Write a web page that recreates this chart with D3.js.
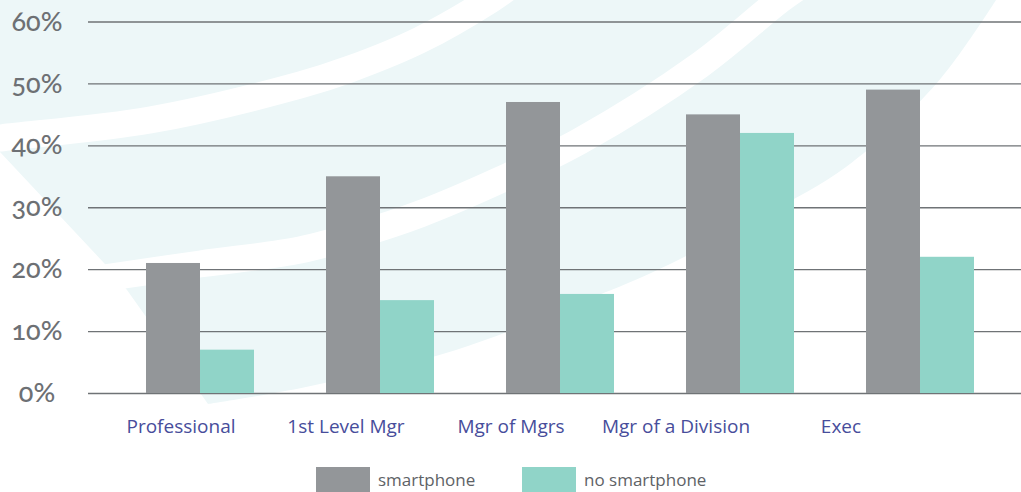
<!DOCTYPE html>
<html>
<head>
<meta charset="utf-8">
<script src="https://cdn.jsdelivr.net/npm/d3@7"></script>
<style>
  html, body { margin: 0; padding: 0; background: #fff; }
  svg { display: block; }
  .grid .domain { display: none; }
  .grid line { stroke: #6f7376; stroke-width: 1.3; }
  .grid text { font-family: Lato, "Open Sans", sans-serif; font-variant-numeric: oldstyle-nums; font-size: 27px; font-weight: 500; fill: #6d7074; }
  .cat { font-family: "Open Sans", sans-serif; font-size: 19px; fill: #474d9b; }
  .leg { font-family: "Open Sans", sans-serif; font-size: 17px; fill: #5e6266; }
</style>
</head>
<body>
<svg id="chart" width="1021" height="492"></svg>
<script>
// values
const categories = ["Professional", "1st Level Mgr", "Mgr of Mgrs", "Mgr of a Division", "Exec"];
const seriesNames = ["smartphone", "no smartphone"];
const smartphone = [21, 35, 47, 45, 49];
const noSmartphone = [7, 15, 16, 42, 22];
const yTicks = [0, 10, 20, 30, 40, 50, 60];
const colors = ["#939699", "#90d4c8"];

const svg = d3.select("#chart");
const W = 1021, H = 492;

// background swoosh (decoration only)
const bg = svg.append("g");
const line = d3.line().curve(d3.curveCatmullRom);
const edge = [[996,0],[937,83],[846,167],[768,213],[651,273],[586,300],[456,350],[306,387],[208,404]];
bg.append("path")
  .attr("d", line(edge) + "L127,290L104,263L0,152L-5,150L-5,-5L996,-5Z")
  .attr("fill", "#edf7f8");
const stripes = [
  [[-20,141],[0,138],[150,120],[300,85],[350,69],[420,40],[490,0],[510,-14]],
  [[90,280],[200,264],[300,250],[360,234],[420,214],[500,180],[580,141],[700,65],[780,0],[800,-14]]
];
bg.selectAll("path.stripe").data(stripes).join("path")
  .attr("class", "stripe")
  .attr("d", d => line(d))
  .attr("fill", "none")
  .attr("stroke", "#fff")
  .attr("stroke-width", 27);

// scales
const y = d3.scaleLinear().domain([0, 60]).range([393, 21.5]);
const x = d3.scaleBand().domain(categories).range([110, 1010]).paddingInner(0.4).paddingOuter(0.2);
const xs = d3.scaleBand().domain(seriesNames).range([0, x.bandwidth()]);
const xLabel = d3.scaleBand().domain(categories).range([98.5, 923.5]);

// grid + y labels
const gAxis = svg.append("g")
  .attr("class", "grid")
  .attr("transform", "translate(88,0)")
  .call(d3.axisLeft(y).tickValues(yTicks).tickSize(-(W - 88)).tickFormat(d => d + "%"));
gAxis.selectAll("text")
  .attr("x", -51)
  .attr("dy", "0.32em")
  .attr("text-anchor", "middle");

// bars
const rows = categories.map((c, i) => ({ cat: c, vals: [smartphone[i], noSmartphone[i]] }));
svg.append("g").selectAll("g").data(rows).join("g")
  .attr("transform", d => `translate(${x(d.cat)},0)`)
  .selectAll("rect")
  .data(d => d.vals.map((v, j) => ({ key: seriesNames[j], v, j })))
  .join("rect")
  .attr("x", d => xs(d.key))
  .attr("width", xs.bandwidth())
  .attr("y", d => y(d.v))
  .attr("height", d => y(0) - y(d.v))
  .attr("fill", d => colors[d.j]);

// category labels
svg.append("g").selectAll("text").data(categories).join("text")
  .attr("class", "cat")
  .attr("x", d => xLabel(d) + xLabel.bandwidth() / 2)
  .attr("y", 433)
  .attr("text-anchor", "middle")
  .text(d => d);

// legend
const leg = svg.append("g").selectAll("g").data(seriesNames).join("g")
  .attr("transform", (d, i) => `translate(${316 + i * 206},467)`);
leg.append("rect").attr("width", 54).attr("height", 30).attr("fill", (d, i) => colors[i]);
leg.append("text").attr("class", "leg").attr("x", 62).attr("y", 19).text(d => d);
</script>
</body>
</html>
